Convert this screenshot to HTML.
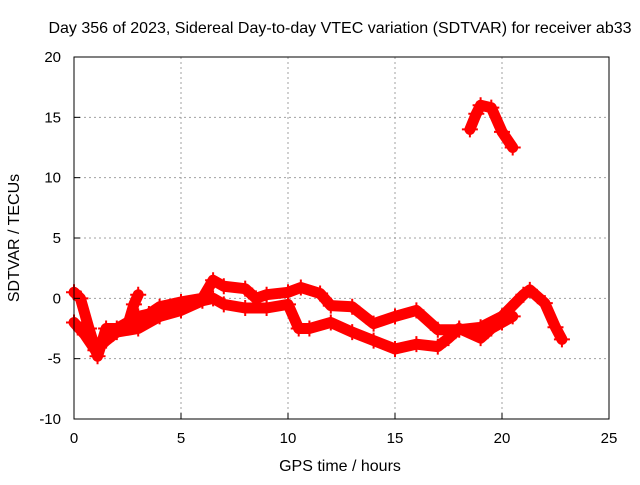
<!DOCTYPE html>
<html><head><meta charset="utf-8"><style>
body{margin:0;background:#fff}
text{font-family:"Liberation Sans",sans-serif;font-size:15px;fill:#000}
.big{font-size:16px}
</style></head><body>
<svg id="chart" width="640" height="480">
<text class="big" x="340" y="33" text-anchor="middle">Day 356 of 2023, Sidereal Day-to-day VTEC variation (SDTVAR) for receiver ab33</text>
<g id="grid"></g><g id="data"></g><g id="axes"></g>
<text class="big" x="340" y="471" text-anchor="middle">GPS time / hours</text>
<text class="big" transform="translate(19,238) rotate(-90)" text-anchor="middle">SDTVAR / TECUs</text>
</svg>
<script>
const xTicks=[0,5,10,15,20,25];
const yTicks=[-10,-5,0,5,10,15,20];
const upperHours=[0,0.3,0.7,1.1,1.5,2,2.5,3,3.5,4,5,6,6.5,7,8,8.5,9,10,10.6,11.5,12,13,14,15,16,17,18,19,20,21,21.3,22,22.5,22.8];
const upperValues=[0.5,0,-2.5,-4.8,-2.5,-2.5,-2,-1.5,-1.3,-0.7,-0.3,0,1.5,1,0.8,0,0.3,0.5,0.9,0.4,-0.6,-0.7,-2.1,-1.5,-1,-2.6,-2.6,-2.4,-1.5,0.3,0.7,-0.4,-2.4,-3.4];
const lowerHours=[0,0.5,1,1.5,2,3,4,5,6,6.5,7,8,9,10,10.5,11,12,13,14,15,16,17,17.5,18,19,19.5,20,20.5];
const lowerValues=[-2,-3,-4.3,-3.5,-2.8,-2.5,-1.5,-1,-0.2,0,-0.5,-0.8,-0.8,-0.5,-2.5,-2.5,-2,-2.8,-3.5,-4.2,-3.8,-4,-3.3,-2.5,-3.3,-2.5,-2,-1.5];
const spikeHours=[2.5,2.8,3];
const spikeValues=[-2.3,-0.5,0.3];
const peakHours=[18.5,18.8,19,19.5,20,20.5];
const peakValues=[14,15.3,16,15.8,13.8,12.5];
const X0=74,X1=609,Y0=419,Y1=57;
const sx=h=>X0+(h-0)/25*(X1-X0);
const sy=v=>Y0-(v+10)/30*(Y0-Y1);
const NS='http://www.w3.org/2000/svg';
const grid=document.getElementById('grid'),axes=document.getElementById('axes'),data=document.getElementById('data');
function mk(tag,at,p){const e=document.createElementNS(NS,tag);for(const k in at)e.setAttribute(k,at[k]);p.appendChild(e);return e;}
xTicks.forEach(t=>{
 if(t>0&&t<25){const g=mk('line',{x1:sx(t),x2:sx(t),y1:Y0,y2:Y1,stroke:'#a0a0a0','stroke-dasharray':'2,3'},grid);
 
 }
 const tk=mk('line',{x1:sx(t),x2:sx(t),y1:Y0,y2:Y0-6,stroke:'#000'},axes);
 
 
 const l=mk('text',{x:sx(t),y:Y0+24,'text-anchor':'middle'},axes);l.textContent=t;
 
 
});
yTicks.forEach(t=>{
 if(t>-10&&t<20){const g=mk('line',{x1:X0,x2:X1,y1:sy(t),y2:sy(t),stroke:'#a0a0a0','stroke-dasharray':'2,3'},grid);
 
 }
 const tk=mk('line',{x1:X0,x2:X0+6,y1:sy(t),y2:sy(t),stroke:'#000'},axes);
 
 
 const l=mk('text',{x:X0-13,y:sy(t)+5,'text-anchor':'end'},axes);l.textContent=t;
 
 
});
const fr=mk('rect',{x:X0,y:Y1,width:X1-X0,height:Y0-Y1,fill:'none',stroke:'#000'},axes);


function series(hs,vs,name){
 const g=mk('g',{},data);
 
 
 const pts=hs.map((h,i)=>sx(h)+','+sy(vs[i])).join(' ');
 mk('polyline',{points:pts,fill:'none',stroke:'#f00','stroke-width':11,'stroke-linejoin':'round','stroke-linecap':'round'},g);
 hs.forEach((h,i)=>{const x=sx(h),y=sy(vs[i]);
  const m=mk('path',{d:`M${x-8},${y}H${x+8}M${x},${y-8}V${y+8}`,stroke:'#f00','stroke-width':2},g);
  
  
 });
}
series(upperHours,upperValues,'upper-track');
series(lowerHours,lowerValues,'lower-track');
series(spikeHours,spikeValues,'spike-track');
series(peakHours,peakValues,'peak-track');
</script>
</body></html>
